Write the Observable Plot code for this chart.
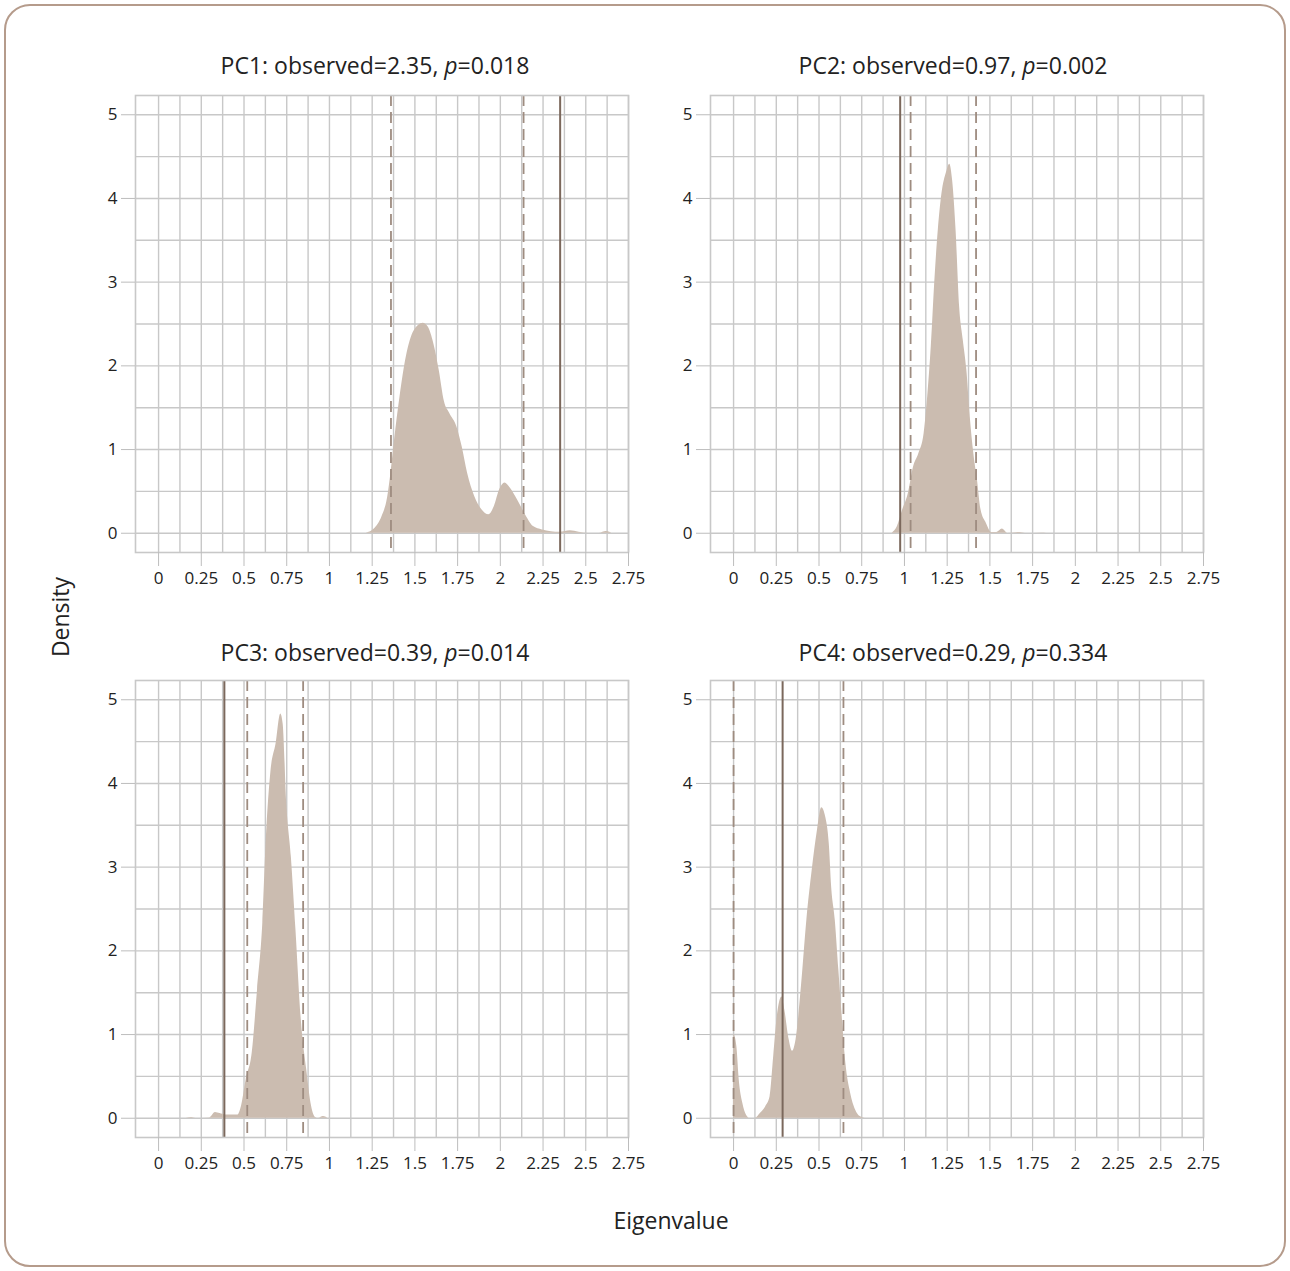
<!DOCTYPE html>
<html><head><meta charset="utf-8">
<script src="https://cdn.jsdelivr.net/npm/d3@7"></script>
<script src="https://cdn.jsdelivr.net/npm/@observablehq/plot@0.6"></script>
<style>
body{margin:0;background:#fff;font-family:"Open Sans",sans-serif;}
#root{position:relative;width:1290px;height:1271px;overflow:hidden;background:#fff;}
.border{position:absolute;left:4px;top:4px;width:1282px;height:1263px;box-sizing:border-box;border:2.5px solid #b59b8b;border-radius:26px;}
.title{position:absolute;font-size:23px;color:#222;transform:translate(-50%,-50%);white-space:nowrap;}
.panel{position:absolute;}
.ylab{position:absolute;font-size:23px;color:#222;transform:translate(-50%,-50%) rotate(-90deg);white-space:nowrap;}
</style></head>
<body><div id="root"><div class="border"></div></div>
<script>
// Panel titles
const titles = [
  ["PC1: observed=2.35, ", "=0.018"],
  ["PC2: observed=0.97, ", "=0.002"],
  ["PC3: observed=0.39, ", "=0.014"],
  ["PC4: observed=0.29, ", "=0.334"]
];
// Observed eigenvalue (solid line) and null-distribution bounds (dashed lines)
const observed = [2.35, 0.975, 0.385, 0.287];
const ciLow = [1.36, 1.036, 0.519, 0.0];
const ciHigh = [2.136, 1.419, 0.846, 0.643];

// Density curves of permuted eigenvalues
const pc1X = [1.215,1.267,1.308,1.34,1.36,1.381,1.413,1.45,1.496,1.548,1.579,1.61,1.642,1.673,1.704,1.746,1.777,1.808,1.85,1.892,1.933,1.965,1.996,2.027,2.058,2.1,2.142,2.194,2.246,2.35,2.41,2.46,2.517,2.58,2.62,2.652];
const pc1Y = [0,0.06,0.2,0.42,0.72,1.11,1.63,2.11,2.42,2.51,2.46,2.27,1.95,1.57,1.43,1.27,1.03,0.72,0.44,0.28,0.22,0.32,0.52,0.6,0.54,0.4,0.24,0.08,0.04,0.012,0.03,0.012,0,0,0.02,0];
const pc2X = [0.928,0.959,0.99,1.021,1.053,1.084,1.115,1.136,1.157,1.178,1.198,1.219,1.246,1.265,1.282,1.302,1.323,1.344,1.365,1.385,1.406,1.427,1.448,1.479,1.51,1.541,1.573,1.604,1.677,1.718,1.8,1.833];
const pc2Y = [0,0.08,0.28,0.46,0.79,0.95,1.19,1.63,2.23,3.02,3.62,4.05,4.31,4.41,4.21,3.62,2.7,2.31,1.95,1.39,0.95,0.64,0.28,0.12,0.01,0.01,0.05,0,0.01,0,0.004,0];
const pc3X = [0.1625,0.194,0.225,0.298,0.333,0.36,0.392,0.465,0.485,0.5125,0.548,0.579,0.61,0.631,0.658,0.6875,0.715,0.729,0.75,0.777,0.804,0.835,0.867,0.892,0.919,0.9375,0.965,0.99];
const pc3Y = [0,0.01,0,0.004,0.07,0.056,0.04,0.04,0.14,0.46,0.78,1.53,2.33,3.36,4.15,4.47,4.83,4.71,3.76,3.12,2.25,1.18,0.58,0.18,0.01,0,0.02,0];
const pc4X = [0,0.002,0.019,0.033,0.054,0.075,0.096,0.127,0.158,0.189,0.214,0.235,0.256,0.283,0.30,0.325,0.345,0.366,0.397,0.429,0.46,0.491,0.516,0.539,0.56,0.574,0.595,0.616,0.637,0.657,0.685,0.714,0.741,0.772];
const pc4Y = [0,1.0,0.86,0.46,0.18,0.04,0,0,0.06,0.14,0.26,0.74,1.22,1.45,1.29,0.94,0.8,0.94,1.57,2.37,2.96,3.44,3.71,3.6,3.28,2.76,2.37,1.77,1.18,0.66,0.3,0.1,0.02,0];

const xTicks = [0,0.25,0.5,0.75,1,1.25,1.5,1.75,2,2.25,2.5,2.75];
const yTicks = [0,1,2,3,4,5];
const xGrid = [0,0.125,0.25,0.375,0.5,0.625,0.75,0.875,1,1.125,1.25,1.375,1.5,1.625,1.75,1.875,2,2.125,2.25,2.375,2.5,2.625,2.75];
const yGrid = [0,0.5,1,1.5,2,2.5,3,3.5,4,4.5,5];

const curvesX = [pc1X, pc2X, pc3X, pc4X];
const curvesY = [pc1Y, pc2Y, pc3Y, pc4Y];

// layout (frame left/top in page px) and title centers
const frames = [[135,95],[710,95],[135,680],[710,680]];
const titlePos = [[375,65],[953,65],[375,652],[953,652]];

const ML = 80, MR = 30, MT = 15, MB = 45, FW = 493, FH = 457;
const root = document.getElementById("root");
const gridColor = "#c8c8c8";

for (let i = 0; i < 4; i++) {
  const data = curvesX[i].map((x, j) => ({x, y: curvesY[i][j]}));
  const svg = Plot.plot({
    width: ML + FW + MR, height: MT + FH + MB,
    marginLeft: ML, marginRight: MR, marginTop: MT, marginBottom: MB,
    x: {domain: [-0.135, 2.75]},
    y: {domain: [-0.23, 5.23]},
    style: {fontFamily: "Open Sans", background: "transparent", overflow: "visible", color: "#222"},
    marks: [
      Plot.gridX(xGrid, {stroke: gridColor, strokeOpacity: 1, strokeWidth: 1.4}),
      Plot.gridY(yGrid, {stroke: gridColor, strokeOpacity: 1, strokeWidth: 1.4}),
      Plot.areaY(data, {x: "x", y: "y", fill: "#cbbcb0", curve: "monotone-x"}),
      Plot.ruleX([ciLow[i], ciHigh[i]], {stroke: "#9e8c80", strokeWidth: 1.8, strokeDasharray: "11,6"}),
      Plot.ruleX([observed[i]], {stroke: "#7b685c", strokeWidth: 2}),
      Plot.frame({stroke: gridColor, strokeWidth: 1.6}),
      Plot.axisX(xTicks, {tickSize: 14, tickPadding: 5, fontSize: 17, stroke: "#bdbdbd", fill: "#222", label: null, tickFormat: d => String(d)}),
      Plot.axisY(yTicks, {tickSize: 14, tickPadding: 4, fontSize: 17, stroke: "#bdbdbd", fill: "#222", label: null, tickFormat: d => String(d)})
    ]
  });
  const wrap = document.createElement("div");
  wrap.className = "panel";
  wrap.style.left = (frames[i][0] - ML) + "px";
  wrap.style.top = (frames[i][1] - MT) + "px";
  wrap.appendChild(svg);
  root.appendChild(wrap);

  const t = document.createElement("div");
  t.className = "title";
  t.style.left = titlePos[i][0] + "px";
  t.style.top = titlePos[i][1] + "px";
  t.append(titles[i][0]);
  const it = document.createElement("i"); it.textContent = "p";
  t.append(it); t.append(titles[i][1]);
  root.appendChild(t);
}

const xl = document.createElement("div");
xl.className = "title"; xl.style.left = "671px"; xl.style.top = "1220px"; xl.textContent = "Eigenvalue";
root.appendChild(xl);
const yl = document.createElement("div");
yl.className = "ylab"; yl.style.left = "60px"; yl.style.top = "617px"; yl.textContent = "Density";
root.appendChild(yl);
</script>
</body></html>
